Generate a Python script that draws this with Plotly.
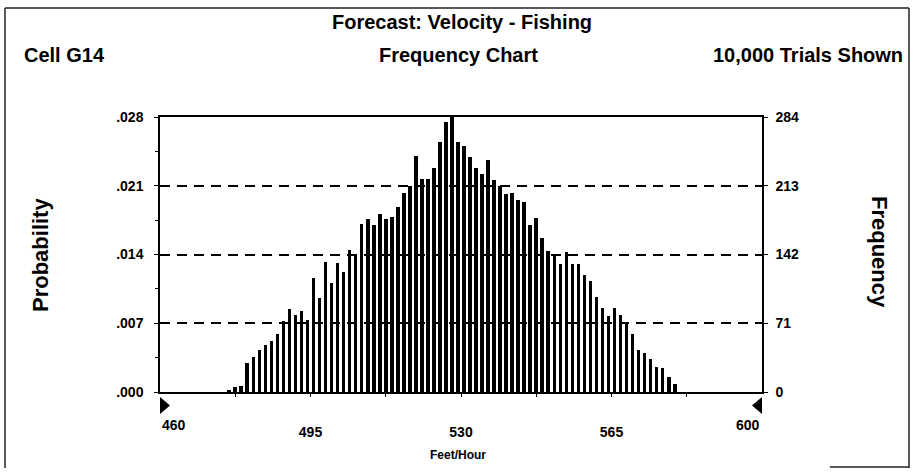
import plotly.graph_objects as go

# ---- data ----
trials = 10000
range_min, range_max = 460, 600          # display range (certainty markers)
n_cells = 100
cell_width = (range_max - range_min) / n_cells
first_cell = 11                            # first non-empty cell index
frequencies = [
    2, 5, 6, 30, 36, 43, 49, 53, 60, 73,
    86, 80, 84, 74, 118, 97, 134, 113, 133, 124,
    147, 141, 174, 179, 172, 184, 179, 181, 191, 206,
    213, 244, 220, 220, 231, 258, 279, 284, 258, 254,
    243, 231, 225, 240, 219, 213, 205, 206, 198, 196,
    172, 180, 159, 146, 140, 132, 145, 132, 132, 121,
    115, 98, 87, 78, 87, 80, 70, 60, 43, 40,
    34, 26, 25, 16, 8,
]
x_ticks = [495, 530, 565]
x_end_labels = [460, 600]
x_minor = [477.5, 512.5, 547.5, 582.5]
freq_ticks = [0, 71, 142, 213, 284]
prob_labels = [".000", ".007", ".014", ".021", ".028"]
freq_minor = [35.5, 106.5, 177.5, 248.5]
marker_vals = [460, 600]

centers = [range_min + cell_width * (first_cell + i + 0.5) for i in range(len(frequencies))]

FONT = "Arial, Liberation Sans, Helvetica, sans-serif"
W, H = 913, 472
L, R, T, B = 160, 151, 117, 80
pw, ph = W - L - R, H - T - B
ppu = pw / (range_max - range_min)        # pixels per x unit


def px(xp):
    return (xp - L) / pw


def py(yp):
    return (H - B - yp) / ph


fig = go.Figure()
fig.add_trace(go.Bar(
    x=centers, y=frequencies, width=cell_width * 0.6,
    marker=dict(color="black", line=dict(width=0)),
    hoverinfo="x+y", showlegend=False,
))
# invisible trace so the right (frequency) axis is drawn
fig.add_trace(go.Scatter(x=[range_min], y=[0], yaxis="y2", mode="markers",
                         marker=dict(opacity=0), showlegend=False, hoverinfo="skip"))

yr = [0, max(freq_ticks)]
tf = dict(family=FONT, size=14, color="black", weight="bold")
fig.update_layout(
    width=W, height=H,
    margin=dict(l=L, r=R, t=T, b=B, pad=0),
    paper_bgcolor="white", plot_bgcolor="white",
    font=dict(family=FONT, color="black", size=13),
    bargap=0,
    xaxis=dict(
        range=[range_min, range_max], tickvals=x_ticks, ticktext=[str(v) for v in x_ticks],
        ticks="outside", ticklen=3, tickcolor="black", tickwidth=1,
        minor=dict(tickvals=x_minor, ticks="outside", ticklen=3, tickcolor="black"),
        showline=True, linecolor="black", linewidth=1.5, mirror=True,
        showgrid=False, zeroline=False, tickfont=tf, ticklabelstandoff=23,
    ),
    yaxis=dict(
        range=yr, tickvals=freq_ticks, ticktext=prob_labels,
        ticks="outside", ticklen=4, tickcolor="black",
        minor=dict(tickvals=freq_minor, ticks="outside", ticklen=3, tickcolor="black"),
        showline=True, linecolor="black", linewidth=1.5,
        showgrid=True, gridcolor="black", gridwidth=2, griddash="10px,7px",
        zeroline=False, tickfont=tf, ticklabelstandoff=8,
    ),
    yaxis2=dict(
        range=yr, overlaying="y", side="right", tickvals=freq_ticks,
        ticktext=[str(v) for v in freq_ticks],
        ticks="outside", ticklen=4, tickcolor="black",
        showline=True, linecolor="black", linewidth=1.5,
        showgrid=False, zeroline=False, tickfont=tf, ticklabelstandoff=5,
    ),
)

# end labels of the x axis sit inside the plot edges
for v, anchor in zip(x_end_labels, ["left", "right"]):
    fig.add_annotation(text=str(v), xref="x", yref="paper", x=v, y=py(425),
                       xanchor=anchor, yanchor="middle", showarrow=False, font=tf)

# certainty-range triangles
tw = 10 / ppu
for v, d in zip(marker_vals, [1, -1]):
    fig.add_shape(type="path", xref="x", yref="paper",
                  path=f"M {v},{py(397)} L {v},{py(414)} L {v + d * tw},{py(405.5)} Z",
                  fillcolor="black", line=dict(width=0))

bold = dict(family=FONT, color="black", weight="bold")
ann = [
    dict(text="Forecast: Velocity - Fishing", x=px(462), y=py(22), size=20, xa="center"),
    dict(text="Cell G14", x=px(22), y=py(55), size=20, xa="left"),
    dict(text="Frequency Chart", x=px(458), y=py(55), size=20, xa="center"),
    dict(text="10,000 Trials Shown", x=px(905), y=py(55), size=20, xa="right"),
    dict(text="Feet/Hour", x=px(458), y=py(455), size=12, xa="center"),
]
for a in ann:
    fig.add_annotation(text=a["text"], xref="paper", yref="paper", x=a["x"], y=a["y"],
                       xanchor=a["xa"], yanchor="middle", showarrow=False,
                       font=dict(size=a["size"], **bold))
fig.add_annotation(text="Probability", xref="paper", yref="paper", x=px(40), y=py(255),
                   textangle=-90, showarrow=False, xanchor="center", yanchor="middle",
                   font=dict(size=22, **bold))
fig.add_annotation(text="Frequency", xref="paper", yref="paper", x=px(880), y=py(252),
                   textangle=90, showarrow=False, xanchor="center", yanchor="middle",
                   font=dict(size=22, **bold))

# outer frame
frame = dict(type="line", xref="paper", yref="paper", line=dict(color="#222", width=1.5))
fig.add_shape(x0=px(5), x1=px(909), y0=py(8), y1=py(8), **frame)
fig.add_shape(x0=px(5), x1=px(5), y0=py(8), y1=py(468), **frame)
fig.add_shape(x0=px(909), x1=px(909), y0=py(8), y1=py(468), **frame)
fig.add_shape(x0=px(830), x1=px(909), y0=py(467), y1=py(467), **frame)

fig.write_html("out.html", config={"displayModeBar": False},
               post_script="document.body.style.margin='0';")
